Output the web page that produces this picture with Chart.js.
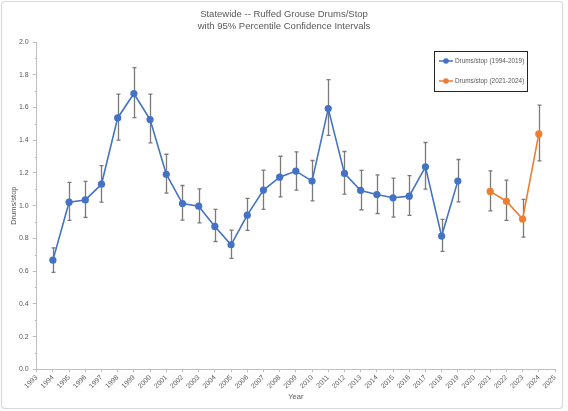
<!DOCTYPE html>
<html>
<head>
<meta charset="utf-8">
<script src="https://cdn.jsdelivr.net/npm/chart.js@4"></script>
<style>
html,body{margin:0;padding:0;background:#fff;}
#wrap{width:568px;height:411px;position:relative;}
</style>
</head>
<body>
<div id="wrap"><canvas id="c" width="568" height="411"></canvas></div>
<script>
// ---- data ----
const titleLines = ["Statewide -- Ruffed Grouse Drums/Stop", "with 95% Percentile Confidence Intervals"];
const xTitle = "Year";
const yTitle = "Drums/stop";
const label1 = "Drums/stop (1994-2019)";
const label2 = "Drums/stop (2021-2024)";

const years1 = [1994,1995,1996,1997,1998,1999,2000,2001,2002,2003,2004,2005,2006,2007,2008,2009,2010,2011,2012,2013,2014,2015,2016,2017,2018,2019];
const values1 = [0.667,1.021,1.035,1.131,1.536,1.685,1.526,1.192,1.013,0.997,0.873,0.761,0.942,1.095,1.174,1.211,1.150,1.593,1.197,1.093,1.068,1.048,1.058,1.237,0.814,1.150];
const low1 = [0.592,0.910,0.928,1.021,1.400,1.538,1.383,1.076,0.911,0.895,0.781,0.678,0.849,0.977,1.054,1.095,1.029,1.429,1.070,0.975,0.952,0.930,0.940,1.101,0.720,1.023];
const high1 = [0.742,1.142,1.148,1.245,1.681,1.844,1.681,1.314,1.123,1.103,0.977,0.850,1.044,1.217,1.302,1.329,1.276,1.770,1.331,1.215,1.188,1.168,1.184,1.386,0.916,1.282];

const years2 = [2021,2022,2023,2024];
const values2 = [1.087,1.027,0.918,1.438];
const low2 = [0.968,0.910,0.808,1.274];
const high2 = [1.213,1.156,1.038,1.614];

const xMin = 1993, xMax = 2025;
const yMin = 0, yMax = 2.0, yStep = 0.2;

const blue = '#4472C4', orange = '#ED7D31';
const textColor = '#595959', axisColor = '#bfbfbf', errColor = '#7a7a7a';
const fontFam = "'Liberation Sans', Arial, sans-serif";

function pts(xs, ys){ return xs.map((x,i)=>({x:x, y:ys[i]})); }

const errorBars = {
  id:'errorBars',
  beforeDatasetsDraw(chart){
    const ctx = chart.ctx, xs = chart.scales.x, ys = chart.scales.y;
    const sets = [[years1,low1,high1],[years2,low2,high2]];
    ctx.save();
    ctx.strokeStyle = errColor; ctx.lineWidth = 1.3;
    sets.forEach(([yr,lo,hi])=>{
      yr.forEach((x,i)=>{
        const px = Math.round(xs.getPixelForValue(x))+0.5;
        const pl = ys.getPixelForValue(lo[i]), ph = ys.getPixelForValue(hi[i]);
        ctx.beginPath();
        ctx.moveTo(px,pl); ctx.lineTo(px,ph);
        ctx.moveTo(px-2,pl); ctx.lineTo(px+2,pl);
        ctx.moveTo(px-2,ph); ctx.lineTo(px+2,ph);
        ctx.stroke();
      });
    });
    ctx.restore();
  }
};

const decor = {
  id:'decor',
  beforeDraw(chart){
    const ctx = chart.ctx;
    ctx.save();
    ctx.fillStyle='#fff'; ctx.fillRect(0,0,chart.width,chart.height);
    ctx.strokeStyle='#d9d9d9'; ctx.lineWidth=1.2;
    ctx.beginPath();
    if (ctx.roundRect) ctx.roundRect(1.5,1.5,561,407,3); else ctx.rect(1.5,1.5,561,407);
    ctx.stroke();
    ctx.restore();
  },
  afterDraw(chart){
    const ctx = chart.ctx, a = chart.chartArea, ys = chart.scales.y;
    ctx.save();
    // title
    ctx.fillStyle = textColor; ctx.textAlign='center'; ctx.textBaseline='middle';
    ctx.font = "9.5px " + fontFam;
    ctx.fillText(titleLines[0], 284, 14);
    ctx.fillText(titleLines[1], 284, 26);
    // axis titles
    ctx.font = "7.5px " + fontFam;
    ctx.fillText(xTitle, (a.left+a.right)/2, 397);
    ctx.save();
    ctx.translate(14,(a.top+a.bottom)/2); ctx.rotate(-Math.PI/2);
    ctx.fillText(yTitle,0,0);
    ctx.restore();
    // minor y ticks
    ctx.strokeStyle = axisColor; ctx.lineWidth=1;
    for (let v=yMin+yStep/2; v<yMax; v+=yStep){
      const py = Math.round(ys.getPixelForValue(v))+0.5;
      ctx.beginPath(); ctx.moveTo(a.left-2,py); ctx.lineTo(a.left,py); ctx.stroke();
    }
    // legend
    const lx=434, ly=51, lw=93, lh=40;
    ctx.fillStyle='#fff'; ctx.fillRect(lx,ly,lw,lh);
    ctx.strokeStyle='#262626'; ctx.lineWidth=1;
    ctx.strokeRect(lx+0.5,ly+0.5,lw,lh);
    const ent=[[label1,blue,61],[label2,orange,81]];
    ctx.font = "6.4px " + fontFam; ctx.textAlign='left';
    ent.forEach(([t,c,y])=>{
      ctx.strokeStyle=c; ctx.lineWidth=1.5;
      ctx.beginPath(); ctx.moveTo(439,y); ctx.lineTo(453,y); ctx.stroke();
      ctx.fillStyle=c; ctx.beginPath(); ctx.arc(446,y,2.8,0,Math.PI*2); ctx.fill();
      ctx.fillStyle=textColor; ctx.fillText(t,455,y);
    });
    ctx.restore();
  }
};

new Chart(document.getElementById('c'), {
  type:'line',
  data:{
    datasets:[
      {label:label1, data:pts(years1,values1), borderColor:blue, backgroundColor:blue, borderWidth:1.6,
       pointRadius:3.6, pointBackgroundColor:blue, pointBorderColor:blue, pointBorderWidth:0, tension:0},
      {label:label2, data:pts(years2,values2), borderColor:orange, backgroundColor:orange, borderWidth:1.6,
       pointRadius:3.6, pointBackgroundColor:orange, pointBorderColor:orange, pointBorderWidth:0, tension:0}
    ]
  },
  options:{
    responsive:false, animation:false, devicePixelRatio:1,
    layout:{padding:{top:42, left:0, right:13, bottom:0}},
    plugins:{legend:{display:false}, title:{display:false}, tooltip:{enabled:false}},
    scales:{
      x:{type:'linear', min:xMin, max:xMax,
         afterFit(s){ s.height = 41.7; s.paddingLeft=0; s.paddingRight=0; },
         ticks:{stepSize:1, autoSkip:false, minRotation:45, maxRotation:45, color:textColor,
                font:{size:7, family:fontFam}, padding:1, callback:(v)=>String(v)},
         grid:{drawOnChartArea:false, drawTicks:true, tickLength:3, color:axisColor},
         border:{color:axisColor}},
      y:{min:yMin, max:yMax,
         afterFit(s){ s.width = 36.7; s.paddingTop=0; s.paddingBottom=0; },
         ticks:{stepSize:yStep, color:textColor, font:{size:7, family:fontFam}, padding:4,
                callback:(v)=>Number(v).toFixed(1)},
         grid:{drawOnChartArea:false, drawTicks:true, tickLength:4, color:axisColor},
         border:{color:axisColor}}
    }
  },
  plugins:[decor, errorBars]
});
</script>
</body>
</html>
